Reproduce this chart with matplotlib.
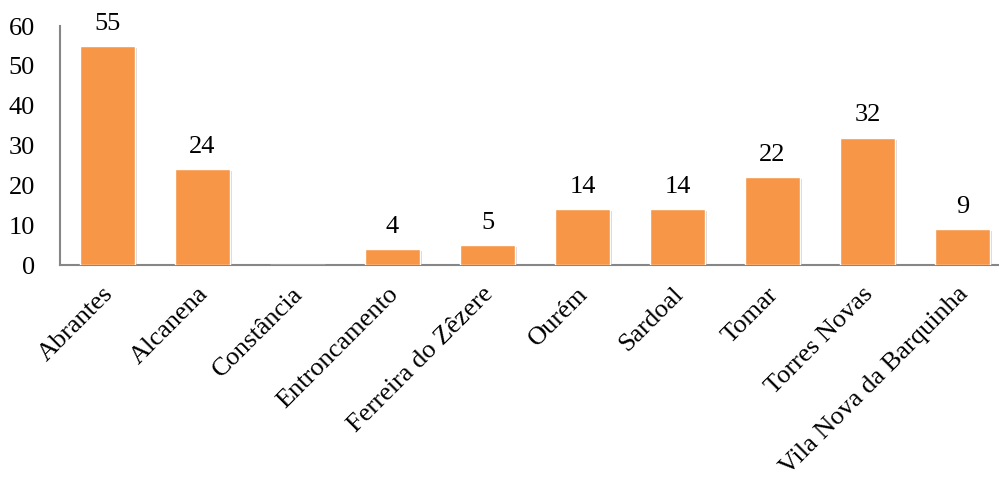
import matplotlib
matplotlib.use('Agg')
import matplotlib.pyplot as plt
import matplotlib.patheffects as pe
import matplotlib.transforms as mtransforms

# Number per municipality
municipios = ['Abrantes', 'Alcanena', 'Constância', 'Entroncamento',
              'Ferreira do Zêzere', 'Ourém', 'Sardoal', 'Tomar',
              'Torres Novas', 'Vila Nova da Barquinha']
valores = [55, 24, 0, 4, 5, 14, 14, 22, 32, 9]
yticks = [0, 10, 20, 30, 40, 50, 60]

plt.rcParams['font.family'] = ['Liberation Serif', 'DejaVu Serif']
fs = 19

fig = plt.figure(figsize=(9.99, 4.78), dpi=100)
# plot area runs slightly past the right edge of the figure
ax = fig.add_axes([0.060, 0.4456, 0.951, 0.500])

x = range(len(municipios))
bars = ax.bar(x, valores, width=0.57, color='#F79646', edgecolor='white',
              linewidth=1.0, zorder=3)
for b in bars:
    b.set_path_effects([pe.SimplePatchShadow(offset=(1.5, -1.5), shadow_rgbFace='#888888', alpha=0.35),
                        pe.Normal()])

# value labels (no label for the empty bar)
for i, v in enumerate(valores):
    if v > 0:
        ax.annotate(str(v), (i, v), xytext=(0, 8), textcoords='offset points',
                    ha='center', va='bottom', fontsize=fs)

ax.set_xlim(-0.5, len(municipios) - 0.5)
ax.set_ylim(0, 60)
ax.set_yticks(yticks)
ax.set_xticks(list(x))
ax.set_xticklabels(municipios, rotation=45, ha='right', va='top',
                   rotation_mode='anchor', fontsize=fs)
ax.tick_params(axis='both', length=0, labelsize=fs)
ax.tick_params(axis='y', pad=18)
ax.tick_params(axis='x', pad=13)

# nudge rotated labels a little to the left
shift = mtransforms.ScaledTranslation(-4 / 72, 0, fig.dpi_scale_trans)
for lbl in ax.get_xticklabels():
    lbl.set_transform(lbl.get_transform() + shift)

for s in ['top', 'right']:
    ax.spines[s].set_visible(False)
for s in ['left', 'bottom']:
    ax.spines[s].set_color('#868686')
    ax.spines[s].set_linewidth(1.5)

fig.savefig('out.png', dpi=100)
